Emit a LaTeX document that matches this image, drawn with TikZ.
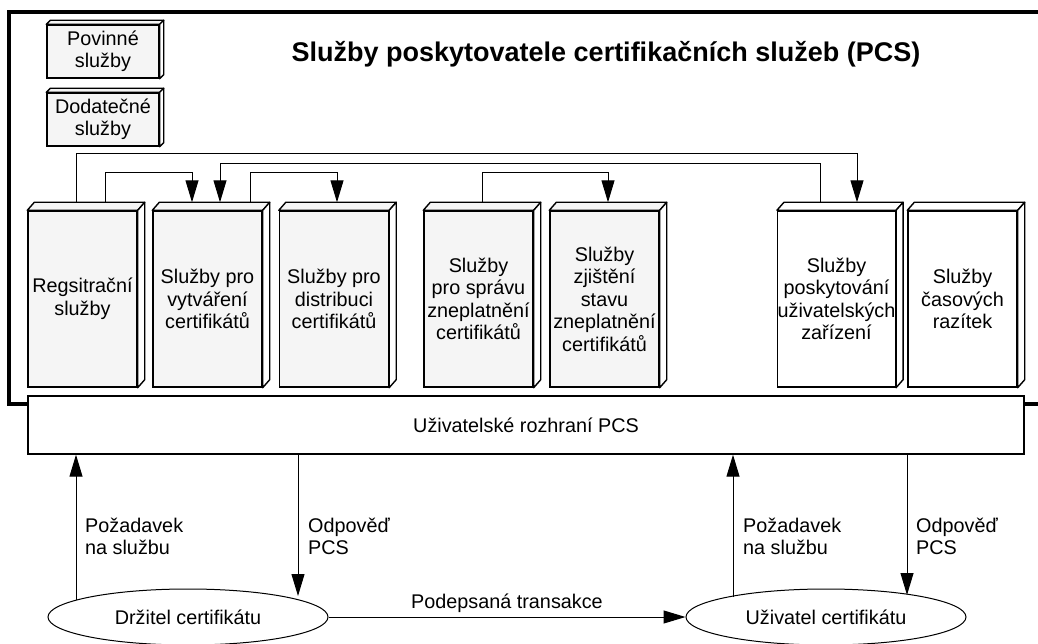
\documentclass[tikz,border=0pt]{standalone}
\usepackage{fontspec}
\setmainfont{Liberation Sans}
\usetikzlibrary{positioning,shapes,arrows.meta,calc}

\begin{document}
\begin{tikzpicture}
[x=1pt, y=-1pt, font=\fontsize{19.8}{22.5}\selectfont,
    every node/.style={align=center},
    sluzba/.style={rectangle, draw=black, line width=1.4pt, fill=black!4,
        minimum width=109pt, minimum height=176pt, inner sep=0pt},
    legenda/.style={rectangle, draw=black, line width=1.4pt, fill=black!4,
        minimum width=112pt, minimum height=53pt, inner sep=0pt},
    strana/.style={draw=black, line width=1.4pt, line join=round},
    osoba/.style={ellipse, draw=black, line width=1pt, fill=white,
        minimum width=280pt, minimum height=56pt, inner sep=0pt},
    popis/.style={anchor=west, align=left, inner sep=0pt},
    spoj/.style={draw=black, line width=1pt, -{Triangle[length=22pt,width=13pt]}}
    ]

    \clip (0,0) rectangle (1038,644);

    % ramec PCS
    \draw[line width=3.5pt] (9,12) rectangle (1060,404);
    \node[font=\fontsize{27}{32}\selectfont\bfseries] (nadpis) at (606,54)
        {Služby poskytovatele certifikačních služeb (PCS)};

    % legenda
    \node[legenda] (pov) at (103,51.5) {Povinné\\služby};
    \node[legenda] (dod) at (103,119.5) {Dodatečné\\služby};

    % sluzby
    \node[sluzba] (reg) at (82.5,299) {Regsitrační\\služby};
    \node[sluzba] (vyt) at (207.5,299) {Služby pro\\vytváření\\certifikátů};
    \node[sluzba] (dis) at (334,299) {Služby pro\\distribuci\\certifikátů};
    \node[sluzba] (spr) at (478.5,299) {Služby\\pro správu\\zneplatnění\\certifikátů};
    \node[sluzba] (zji) at (604.5,299) {Služby\\zjištění\\stavu\\zneplatnění\\certifikátů};
    \node[sluzba, fill=white] (pos) at (836.5,299) {Služby\\poskytování\\uživatelských\\zařízení};
    \node[sluzba, fill=white] (cas) at (962.5,299) {Služby\\časových\\razítek};

    \foreach \n/\dx/\dy/\f in {pov/4/4/black!4, dod/4/4/black!4, reg/7/8/black!4,
        vyt/7/8/black!4, dis/7/8/black!4, spr/7/8/black!4, zji/7/8/black!4,
        pos/7/8/white, cas/7/8/white} {
        \draw[strana, fill=\f] (\n.north west) -- ++(\dx,-\dy)
            -- ($(\n.north east)+(\dx,-\dy)$) -- (\n.north east) -- cycle;
        \draw[strana, fill=white] (\n.north east) -- ++(\dx,-\dy)
            -- ($(\n.south east)+(\dx,-\dy)$) -- (\n.south east) -- cycle;
    }

    % vazby mezi sluzbami
    \draw[spoj] ($(reg.north)+(-6.5,-8)$) -- ++(0,-49) -| ($(pos.north)+(20.5,-8)$);
    \draw[spoj] ($(pos.north)+(-16.5,-8)$) -- ++(0,-39) -| ($(vyt.north)+(12.5,-8)$);
    \draw[spoj] ($(reg.north)+(22.5,-8)$) -- ++(0,-30) -| ($(vyt.north)+(-15.5,-8)$);
    \draw[spoj] ($(vyt.north)+(42.5,-8)$) -- ++(0,-30) -| ($(dis.north)+(3,-8)$);
    \draw[spoj] ($(spr.north)+(3.5,-8)$) -- ++(0,-30) -| ($(zji.north)+(3.5,-8)$);

    % rozhrani
    \node[rectangle, draw=black, line width=1.4pt, fill=white, minimum width=996pt,
        minimum height=58pt, inner sep=0pt] (ui) at (526,425) {Uživatelské rozhraní PCS};

    % uzivatele
    \node[osoba] (drz) at (188,617) {Držitel certifikátu};
    \node[osoba] (uziv) at (826,617) {Uživatel certifikátu};

    \coordinate (z1) at ($(drz)+(-112,-17)$);
    \coordinate (z2) at ($(drz)+(110,-21)$);
    \coordinate (z3) at ($(uziv)+(-93,-20)$);
    \coordinate (z4) at ($(uziv)+(81,-22)$);

    \draw[spoj] (z1) -- (z1 |- ui.south);
    \draw[spoj] (ui.south -| z2) -- (z2);
    \draw[spoj] (z3) -- (z3 |- ui.south);
    \draw[spoj] (ui.south -| z4) -- (z4);
    \draw[spoj] (drz.east) -- node[above=1pt] (tr) {Podepsaná transakce} (uziv.west);

    \node[popis] (poz1) at (85,536.5) {Požadavek\\na službu};
    \node[popis] (odp1) at (308,536.5) {Odpověď\\PCS};
    \node[popis] (poz2) at (743,536.5) {Požadavek\\na službu};
    \node[popis] (odp2) at (916,536.5) {Odpověď\\PCS};
\end{tikzpicture}
\end{document}
